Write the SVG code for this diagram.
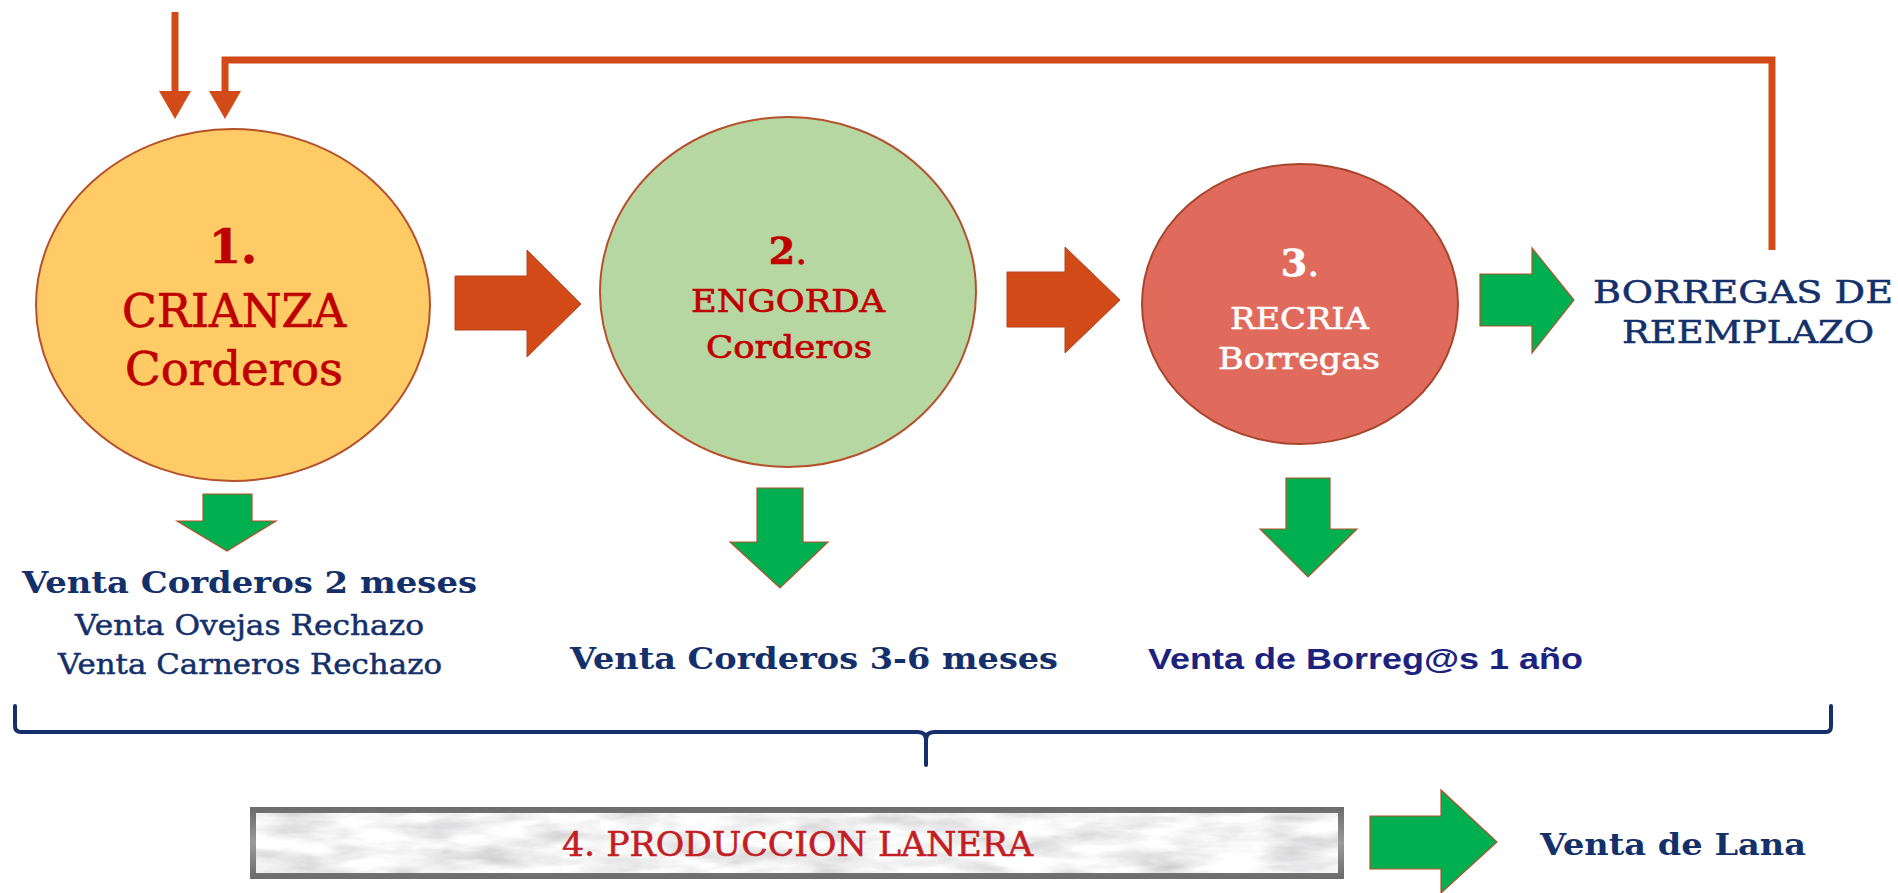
<svg xmlns="http://www.w3.org/2000/svg" width="1898" height="893" viewBox="0 0 1898 893">
  <defs>
    <style>
      .slab { font-family: "DejaVu Serif", "Liberation Serif", serif; }
      .sans { font-family: "Liberation Sans", Arial, sans-serif; }
      .red { fill: #c00000; stroke: #c00000; stroke-width: 0.7; }
      .navy { fill: #14306b; }
      .navyR { fill: #14306b; stroke: #14306b; stroke-width: 0.5; }
      .white { fill: #ffffff; stroke: #ffffff; stroke-width: 0.6; }
      .conn { fill: none; stroke: #d24a17; stroke-width: 7; }
      .blockO { fill: #d24a17; stroke: #b8441c; stroke-width: 1; }
      .blockG { fill: #00b050; stroke: #b5502a; stroke-width: 1.2; }
      .brace { fill: none; stroke: #14306b; stroke-width: 4; stroke-linejoin: round; stroke-linecap: round; }
    </style>
    <marker id="headO" markerUnits="userSpaceOnUse" markerWidth="30" markerHeight="32" viewBox="0 0 28 32" refX="0" refY="16" orient="auto">
      <path d="M0,0 L28,16 L0,32 z" fill="#d24a17"/>
    </marker>
    <linearGradient id="frame" x1="0" y1="0" x2="0" y2="1">
      <stop offset="0" stop-color="#6e6e6e"/>
      <stop offset="0.5" stop-color="#9a9a9a"/>
      <stop offset="1" stop-color="#6e6e6e"/>
    </linearGradient>
    <filter id="marble" x="0" y="0" width="1" height="1">
      <feTurbulence type="fractalNoise" baseFrequency="0.015 0.06" numOctaves="4" seed="11" result="n"/>
      <feColorMatrix in="n" type="matrix" values="0.33 0.33 0.33 0 0  0.33 0.33 0.33 0 0  0.33 0.33 0.33 0 0  0 0 0 0 1" result="g"/>
      <feComponentTransfer in="g" result="m">
        <feFuncR type="linear" slope="1.1" intercept="0.35"/>
        <feFuncG type="linear" slope="1.1" intercept="0.35"/>
        <feFuncB type="linear" slope="1.1" intercept="0.36"/>
      </feComponentTransfer>
      <feComposite in="m" in2="SourceGraphic" operator="in"/>
    </filter>
  </defs>

  <rect width="1898" height="893" fill="#ffffff"/>

  <g id="connectors">
    <path class="conn" d="M175,12 V91" marker-end="url(#headO)"/>
    <path class="conn" d="M1772,250 V60 H225 V91" marker-end="url(#headO)"/>
    <polygon class="blockO" points="455,276 527,276 527,250 581,304 527,357 527,330 455,330"/>
    <polygon class="blockO" points="1007,272 1065,272 1065,247 1120,300 1065,353 1065,327 1007,327"/>
    <polygon class="blockG" points="1480,274 1532,274 1532,248 1574,300 1532,353 1532,326 1480,326"/>
    <polygon class="blockG" points="203,494 252,494 252,521 276,521 227,551 177,521 203,521"/>
    <polygon class="blockG" points="757,488 803,488 803,542 828,542 780,588 730,542 757,542"/>
    <polygon class="blockG" points="1286,478 1330,478 1330,529 1357,529 1308,577 1260,529 1286,529"/>
    <polygon class="blockG" points="1370,816 1441,816 1441,790 1497,842 1441,893 1441,869 1370,869"/>
    <path class="brace" d="M15,706 V726 Q15,732 21,732 H918 Q926,732 926,740 V765 M926,740 Q926,732 934,732 H1826 Q1831,732 1831,726 V706"/>
  </g>

  <g id="node-crianza">
    <ellipse cx="233" cy="305" rx="197" ry="176" fill="#fecb67" stroke="#b5502a" stroke-width="2"/>
    <text class="slab red" x="233" y="263" font-size="46" font-weight="bold" text-anchor="middle">1.</text>
    <text class="slab red" x="122" y="327" font-size="46" textLength="224" lengthAdjust="spacingAndGlyphs">CRIANZA</text>
    <text class="slab red" x="125" y="385" font-size="46" textLength="218" lengthAdjust="spacingAndGlyphs">Corderos</text>
  </g>

  <g id="node-engorda">
    <ellipse cx="788" cy="292" rx="188" ry="175" fill="#b6d7a2" stroke="#b5502a" stroke-width="2"/>
    <text class="slab red" x="788" y="264" font-size="38" text-anchor="middle"><tspan font-weight="bold">2</tspan>.</text>
    <text class="slab red" x="691" y="312" font-size="31" textLength="194" lengthAdjust="spacingAndGlyphs">ENGORDA</text>
    <text class="slab red" x="706" y="358" font-size="31" textLength="166" lengthAdjust="spacingAndGlyphs">Corderos</text>
  </g>

  <g id="node-recria">
    <ellipse cx="1300" cy="304" rx="158" ry="140" fill="#e06b5c" stroke="#a8452a" stroke-width="2"/>
    <text class="slab white" x="1300" y="276" font-size="38" text-anchor="middle"><tspan font-weight="bold">3</tspan>.</text>
    <text class="slab white" x="1230" y="329" font-size="30" textLength="139" lengthAdjust="spacingAndGlyphs">RECRIA</text>
    <text class="slab white" x="1218" y="369" font-size="30" textLength="162" lengthAdjust="spacingAndGlyphs">Borregas</text>
  </g>

  <g id="node-reemplazo">
    <text class="slab navyR" x="1593" y="303" font-size="31" textLength="300" lengthAdjust="spacingAndGlyphs">BORREGAS DE</text>
    <text class="slab navyR" x="1622" y="343" font-size="31" textLength="252" lengthAdjust="spacingAndGlyphs">REEMPLAZO</text>
  </g>

  <g id="node-venta1">
    <text class="slab navy" x="22" y="593" font-size="29" font-weight="bold" textLength="455" lengthAdjust="spacingAndGlyphs">Venta Corderos 2 meses</text>
    <text class="slab navyR" x="75" y="635" font-size="27" textLength="349" lengthAdjust="spacingAndGlyphs">Venta Ovejas Rechazo</text>
    <text class="slab navyR" x="58" y="674" font-size="27" textLength="384" lengthAdjust="spacingAndGlyphs">Venta Carneros Rechazo</text>
  </g>

  <g id="node-venta2">
    <text class="slab navy" x="570" y="669" font-size="30" font-weight="bold" textLength="488" lengthAdjust="spacingAndGlyphs">Venta Corderos 3-6 meses</text>
  </g>

  <g id="node-venta3">
    <text class="sans" x="1148" y="669" font-size="30" font-weight="bold" fill="#1c237e" textLength="435" lengthAdjust="spacingAndGlyphs">Venta de Borreg@s 1 año</text>
  </g>

  <g id="node-lanera">
    <rect x="250" y="807" width="1094" height="72" fill="#e4e4e4"/>
    <rect x="250" y="807" width="1094" height="72" fill="#ffffff" filter="url(#marble)"/>
    <rect x="253" y="810" width="1088" height="66" fill="none" stroke="url(#frame)" stroke-width="6"/>
    <text class="slab" x="562" y="856" font-size="34" fill="#c41e24" stroke="#c41e24" stroke-width="0.6" textLength="471" lengthAdjust="spacingAndGlyphs">4. PRODUCCION LANERA</text>
  </g>

  <g id="node-lana">
    <text class="slab navy" x="1540" y="855" font-size="30" font-weight="bold" textLength="266" lengthAdjust="spacingAndGlyphs">Venta de Lana</text>
  </g>
</svg>
